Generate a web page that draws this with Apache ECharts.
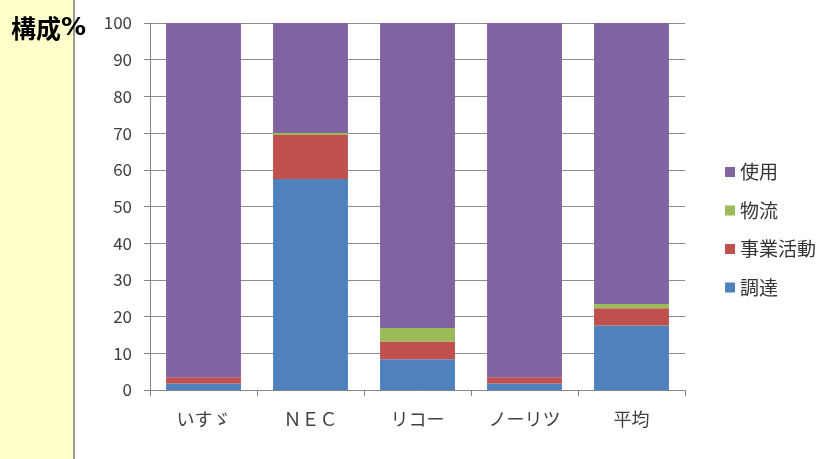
<!DOCTYPE html>
<html><head><meta charset="utf-8">
<script src="https://cdn.jsdelivr.net/npm/echarts@6/dist/echarts.min.js"></script>
<style>html,body{margin:0;padding:0;background:#fff}#c{width:826px;height:459px}</style>
</head><body><div id="c"></div>
<script>
const categories = ['いすゞ', 'ＮＥＣ', 'リコー', 'ノーリツ', '平均'];
const procurement = [1.8, 57.5, 8.4, 1.8, 17.6];   // 調達
const business = [1.7, 12.0, 4.8, 1.7, 4.7];       // 事業活動
const logistics = [0, 0.5, 3.7, 0, 1.1];           // 物流
const usage = [96.5, 30.0, 83.1, 96.5, 76.6];      // 使用
const seriesNames = ['調達', '事業活動', '物流', '使用'];
const legendOrder = ['使用', '物流', '事業活動', '調達'];
const yTicks = [0, 10, 20, 30, 40, 50, 60, 70, 80, 90, 100];

const colors = ['#4F81BD', '#C0504D', '#9BBB59', '#8064A2'];
const values = [procurement, business, logistics, usage];
const font = '"Noto Sans CJK JP", "Noto Sans", sans-serif';

const chart = echarts.init(document.getElementById('c'), null, {renderer: 'canvas'});
chart.setOption({
  animation: false,
  backgroundColor: '#ffffff',
  color: colors,
  graphic: [
    {type: 'rect', left: 0, top: 0, z: -10, shape: {width: 74, height: 459}, style: {fill: '#FFFFCC'}},
    {type: 'line', z: -9, shape: {x1: 74, y1: 0, x2: 74, y2: 459}, style: {stroke: '#9a9a9a', lineWidth: 2}},
    {type: 'text', left: 11, top: 16, z: 10, style: {
      text: '{a|構成}{b|%}',
      rich: {
        a: {fontFamily: font, fontWeight: 'bold', fontSize: 25, fill: '#000', color: '#000'},
        b: {fontFamily: '"DejaVu Sans", sans-serif', fontWeight: 'bold', fontSize: 25, fill: '#000', color: '#000'}
      }
    }}
  ],
  grid: {left: 150, right: 141, top: 23, bottom: 69},
  legend: {
    data: legendOrder,
    orient: 'vertical',
    left: 720, top: 157,
    itemWidth: 10, itemHeight: 10, itemGap: 18.5,
    icon: 'rect',
    textStyle: {fontFamily: font, fontSize: 19, lineHeight: 20, color: '#333'}
  },
  xAxis: {
    type: 'category',
    data: categories,
    axisLine: {lineStyle: {color: '#868686', width: 1}},
    axisTick: {show: true, length: 6, lineStyle: {color: '#868686'}},
    axisLabel: {fontFamily: font, fontSize: 18, color: '#404040', margin: 20}
  },
  yAxis: {
    type: 'value',
    min: 0, max: 100, interval: 10,
    axisLine: {show: true, lineStyle: {color: '#868686', width: 1}},
    axisTick: {show: true, length: 6, lineStyle: {color: '#868686'}},
    splitLine: {lineStyle: {color: '#8c8c8c', width: 1}},
    axisLabel: {fontFamily: font, fontSize: 17, color: '#404040', margin: 18,
      formatter: v => yTicks.includes(v) ? String(v) : ''}
  },
  series: seriesNames.map((n, i) => ({
    name: n, type: 'bar', stack: 'total', barWidth: '70%',
    data: values[i],
    itemStyle: {color: colors[i]}
  }))
});
</script></body></html>
